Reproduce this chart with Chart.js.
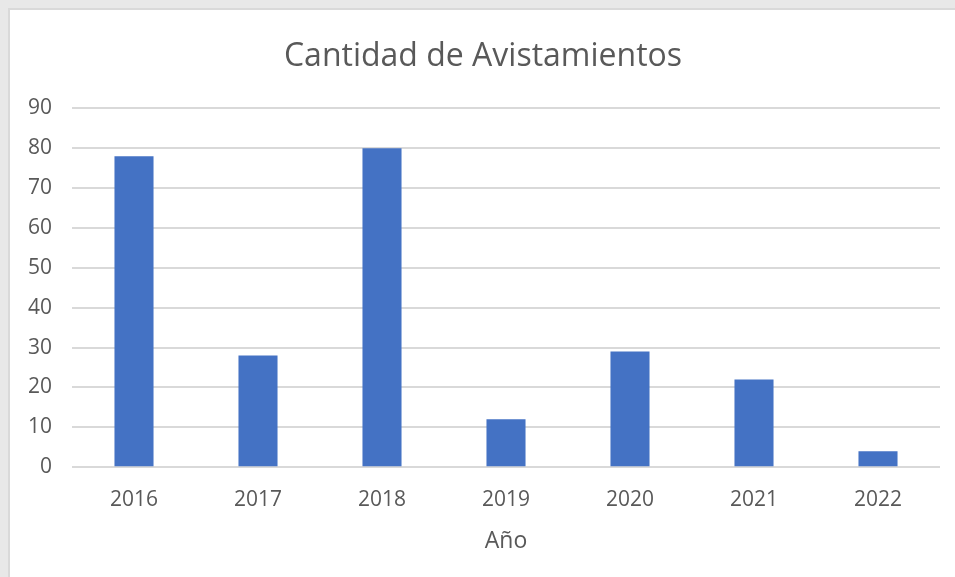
<!DOCTYPE html>
<html>
<head>
<meta charset="utf-8">
<script src="https://cdn.jsdelivr.net/npm/chart.js@4.4.0/dist/chart.umd.min.js"></script>
<style>
  html, body { margin: 0; padding: 0; background: #e8e8e8; width: 955px; height: 577px; overflow: hidden; }
  #frame { position: absolute; left: 8px; top: 8px; width: 947px; height: 569px; background: #ffffff; border-left: 2px solid #d9d9d9; border-top: 2px solid #d9d9d9; box-sizing: border-box; }
  #wrap { position: absolute; left: 0; top: 0; width: 945px; height: 567px; }
</style>
</head>
<body>
<div id="frame"><div id="wrap"><canvas id="c"></canvas></div></div>
<script>
const categories = ["2016", "2017", "2018", "2019", "2020", "2021", "2022"];
const sightings = [78, 28, 80, 12, 29, 22, 4];
const chartTitle = "Cantidad de Avistamientos";
const xAxisTitle = "Año";
const yTicks = { min: 0, max: 90, step: 10 };

const FONT = "'Segoe UI', 'Open Sans', 'Noto Sans', sans-serif";
const TXT = "#595959";

new Chart(document.getElementById("c"), {
  type: "bar",
  data: {
    labels: categories,
    datasets: [{
      label: chartTitle,
      data: sightings,
      backgroundColor: "#4472C4",
      borderWidth: 0,
      categoryPercentage: 1.0,
      barPercentage: 0.315
    }]
  },
  options: {
    responsive: true,
    maintainAspectRatio: false,
    animation: false,
    layout: { padding: { left: 16, right: 15, top: 28, bottom: 22 } },
    plugins: {
      legend: { display: false },
      tooltip: { enabled: false },
      title: {
        display: true,
        text: chartTitle,
        color: TXT,
        font: { family: FONT, size: 32, weight: "normal" },
        padding: { top: 0, bottom: 32 }
      }
    },
    scales: {
      x: {
        grid: { display: false, drawTicks: false },
        border: { display: false },
        ticks: { color: TXT, font: { family: FONT, size: 21 }, padding: 20 },
        title: { display: true, text: xAxisTitle, color: TXT, font: { family: FONT, size: 23 }, padding: { top: -5, bottom: 0 } }
      },
      y: {
        min: yTicks.min,
        max: yTicks.max,
        afterFit: (s) => { s.width = 46; },
        grid: { color: "#d9d9d9", lineWidth: 2, drawTicks: false },
        border: { display: false },
        ticks: { stepSize: yTicks.step, color: TXT, font: { family: FONT, size: 21 }, padding: 20 }
      }
    }
  }
});
</script>
</body>
</html>
